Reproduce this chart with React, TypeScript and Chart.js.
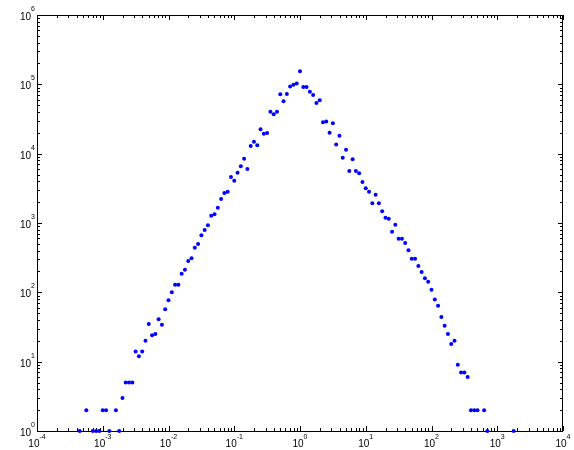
import React, { useEffect, useRef } from "react";
import { Chart, registerables } from "chart.js";

Chart.register(...registerables);

// Bin centres (x) and counts (y)
const xValues = [
  4.467e-4, 5.623e-4, 7.079e-4, 7.943e-4, 8.913e-4, 1.0e-3, 1.122e-3, 1.259e-3, 1.585e-3, 1.778e-3,
  1.995e-3, 2.239e-3, 2.512e-3, 2.818e-3, 3.162e-3, 3.548e-3, 3.981e-3, 4.467e-3, 5.012e-3, 5.623e-3,
  6.31e-3, 7.079e-3, 7.943e-3, 8.913e-3, 0.01, 0.01122, 0.01259, 0.01413, 0.01585, 0.01778,
  0.01995, 0.02239, 0.02512, 0.02818, 0.03162, 0.03548, 0.03981, 0.04467, 0.05012, 0.05623,
  0.0631, 0.07079, 0.07943, 0.08913, 0.1, 0.1122, 0.1259, 0.1413, 0.1585, 0.1778,
  0.1995, 0.2239, 0.2512, 0.2818, 0.3162, 0.3548, 0.3981, 0.4467, 0.5012, 0.5623,
  0.631, 0.7079, 0.7943, 0.8913, 1.0, 1.122, 1.259, 1.413, 1.585, 1.778,
  1.995, 2.239, 2.512, 2.818, 3.162, 3.548, 3.981, 4.467, 5.012, 5.623,
  6.31, 7.079, 7.943, 8.913, 10, 11.22, 12.59, 14.13, 15.85, 17.78,
  19.95, 22.39, 25.12, 28.18, 31.62, 35.48, 39.81, 44.67, 50.12, 56.23,
  63.1, 70.79, 79.43, 89.13, 100, 112.2, 125.9, 141.3, 158.5, 177.8,
  199.5, 223.9, 251.2, 281.8, 316.2, 354.8, 398.1, 446.7, 501.2, 631,
  707.9, 1778,
];

const yValues = [
  1, 2, 1, 1, 1, 2, 2, 1, 2, 1,
  3, 5, 5, 5, 14, 12, 14, 20, 35, 24,
  25, 41, 34, 57, 77, 100, 129, 129, 186, 212,
  283, 310, 440, 498, 665, 793, 927, 1274, 1335, 1663,
  2220, 2710, 2830, 4610, 4070, 5320, 6580, 8470, 6010, 12900,
  14900, 13200, 22500, 19400, 19900, 40300, 37000, 40300, 71800, 56900,
  72600, 93300, 98800, 103000, 154000, 91600, 91600, 78300, 70200, 53800,
  58900, 28400, 29000, 20100, 27400, 13600, 18200, 8750, 11400, 5620,
  8300, 5620, 5210, 3900, 3170, 2830, 1920, 2560, 1920, 1480,
  1190, 1150, 750, 946, 594, 594, 515, 404, 306, 306,
  240, 196, 159, 142, 109, 79, 64, 44, 33, 25,
  18, 20, 9, 7, 7, 6, 2, 2, 2, 2,
  1, 1,
];

const xTickValues = [1e-4, 1e-3, 1e-2, 1e-1, 1e0, 1e1, 1e2, 1e3, 1e4];
const xTickExponents = ["-4", "-3", "-2", "-1", "0", "1", "2", "3", "4"];
const yTickValues = [1e0, 1e1, 1e2, 1e3, 1e4, 1e5, 1e6];
const yTickExponents = ["0", "1", "2", "3", "4", "5", "6"];

const FONT = "'Liberation Sans', Arial, Helvetica, sans-serif";

const framePlugin = {
  id: "matlabFrame",
  beforeDatasetsDraw(chart: any) {
    const { ctx, chartArea, scales } = chart;
    const left = Math.round(chartArea.left);
    const right = Math.round(chartArea.right);
    const top = Math.round(chartArea.top);
    const bottom = Math.round(chartArea.bottom);
    ctx.save();
    ctx.strokeStyle = "#000";
    ctx.lineWidth = 1;
    ctx.beginPath();
    for (let d = -4; d <= 4; d++) {
      for (let m = 1; m <= 9; m++) {
        const v = m * Math.pow(10, d);
        if (v > 1e4 * 1.0001) break;
        const px = Math.round(scales.x.getPixelForValue(v)) + 0.5;
        const len = m === 1 ? 5 : 3;
        ctx.moveTo(px, bottom);
        ctx.lineTo(px, bottom - len);
        ctx.moveTo(px, top);
        ctx.lineTo(px, top + len);
      }
    }
    for (let d = 0; d <= 6; d++) {
      for (let m = 1; m <= 9; m++) {
        const v = m * Math.pow(10, d);
        if (v > 1e6 * 1.0001) break;
        const py = Math.round(scales.y.getPixelForValue(v)) + 0.5;
        const len = m === 1 ? 5 : 3;
        ctx.moveTo(left, py);
        ctx.lineTo(left + len, py);
        ctx.moveTo(right, py);
        ctx.lineTo(right - len, py);
      }
    }
    ctx.stroke();
    ctx.strokeRect(left + 0.5, top + 0.5, right - left - 1, bottom - top);

    // tick labels "10" with superscript exponent
    ctx.fillStyle = "#000";
    ctx.textBaseline = "alphabetic";
    const baseFont = `10px ${FONT}`;
    const supFont = `7px ${FONT}`;
    xTickValues.forEach((v, i) => {
      const px = scales.x.getPixelForValue(v);
      ctx.font = baseFont;
      const wb = ctx.measureText("10").width;
      ctx.font = supFont;
      const we = ctx.measureText(xTickExponents[i]).width;
      const start = px - (wb + we) / 2;
      ctx.font = baseFont;
      ctx.textAlign = "left";
      ctx.fillText("10", start, bottom + 16);
      ctx.font = supFont;
      ctx.fillText(xTickExponents[i], start + wb, bottom + 8);
    });
    yTickValues.forEach((v, i) => {
      const py = scales.y.getPixelForValue(v);
      ctx.font = supFont;
      const we = ctx.measureText(yTickExponents[i]).width;
      const endX = left - 2;
      ctx.textAlign = "left";
      ctx.fillText(yTickExponents[i], endX - we, py - 4);
      ctx.font = baseFont;
      ctx.textAlign = "right";
      ctx.fillText("10", endX - we, py + 5);
    });
    ctx.restore();
  },
};

export default function App() {
  const canvasRef = useRef<HTMLCanvasElement | null>(null);

  useEffect(() => {
    if (!canvasRef.current) return;
    const points = xValues.map((x, i) => ({ x, y: yValues[i] }));
    const chart = new Chart(canvasRef.current, {
      type: "scatter",
      data: {
        datasets: [
          {
            data: points,
            backgroundColor: "#0000ff",
            borderColor: "#0000ff",
            borderWidth: 0,
            pointRadius: 2,
            pointHoverRadius: 2,
            clip: false as any,
          },
        ],
      },
      options: {
        responsive: false,
        animation: false,
        devicePixelRatio: 1,
        layout: { padding: { top: 15, right: 11, left: 0, bottom: 0 } },
        plugins: { legend: { display: false }, tooltip: { enabled: false } },
        scales: {
          x: {
            type: "logarithmic",
            min: 1e-4,
            max: 1e4,
            grid: { display: false },
            border: { display: false },
            afterBuildTicks: (scale: any) => {
              scale.ticks = xTickValues.map((v) => ({ value: v }));
            },
            afterFit: (scale: any) => {
              scale.height = 19;
            },
            ticks: { display: false },
          },
          y: {
            type: "logarithmic",
            min: 1,
            max: 1e6,
            grid: { display: false },
            border: { display: false },
            afterBuildTicks: (scale: any) => {
              scale.ticks = yTickValues.map((v) => ({ value: v }));
            },
            afterFit: (scale: any) => {
              scale.width = 37;
            },
            ticks: { display: false },
          },
        },
      },
      plugins: [framePlugin],
    });
    return () => chart.destroy();
  }, []);

  return (
    <div style={{ position: "fixed", left: 0, top: 0, width: 574, height: 450, background: "#fff" }}>
      <canvas ref={canvasRef} width={574} height={450} style={{ width: 574, height: 450, display: "block" }} />
    </div>
  );
}
